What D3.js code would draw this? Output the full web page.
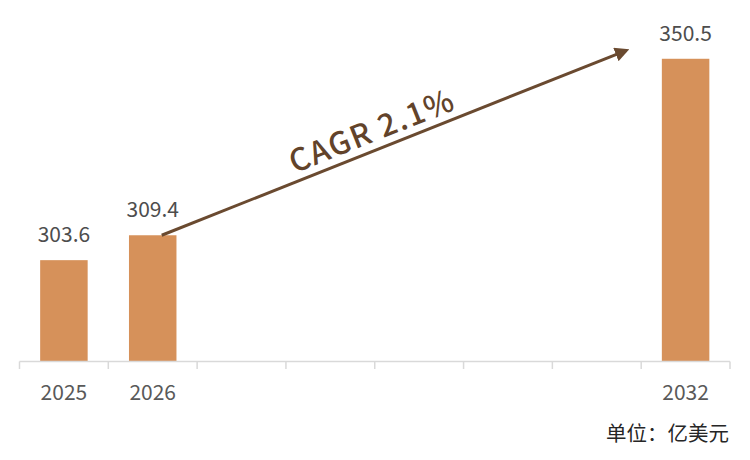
<!DOCTYPE html>
<html>
<head>
<meta charset="utf-8">
<script src="https://cdn.jsdelivr.net/npm/d3@7"></script>
<style>
  body { margin: 0; background: #fff; }
  svg text { font-family: "Noto Sans CJK SC", "Noto Sans", sans-serif; }
</style>
</head>
<body>
<div class="chart"></div>
<script>
var years = ["2025", "2026", "2027", "2028", "2029", "2030", "2031", "2032"];
var values = [303.6, 309.4, null, null, null, null, null, 350.5];
var labeledYears = ["2025", "2026", "2032"];
var cagrText = "CAGR 2.1%";
var unitText = "单位：亿美元";

var width = 750, height = 460;
var baseY = 361.5;

var svg = d3.select(".chart").append("svg")
  .attr("width", width)
  .attr("height", height);

var x = d3.scaleBand().domain(years).range([19.5, 730]).paddingInner(0).paddingOuter(0);
var y = d3.scaleLinear().domain([280, 360]).range([baseY, baseY - 80 * 4.294]);

var barW = 47.5;
var data = years.map(function(d, i) { return { year: d, value: values[i] }; })
  .filter(function(d) { return d.value != null; });

// bars
svg.selectAll("rect.bar").data(data).enter().append("rect")
  .attr("class", "bar")
  .attr("x", function(d) { return x(d.year) + x.bandwidth() / 2 - barW / 2; })
  .attr("width", barW)
  .attr("y", function(d) { return y(d.value); })
  .attr("height", function(d) { return baseY - y(d.value); })
  .attr("fill", "#d6915a");

// value labels
svg.selectAll("text.val").data(data).enter().append("text")
  .attr("class", "val")
  .attr("x", function(d) { return x(d.year) + x.bandwidth() / 2; })
  .attr("y", function(d) { return y(d.value) - 18; })
  .attr("text-anchor", "middle")
  .attr("font-size", 21)
  .attr("fill", "#4d4d4d")
  .text(function(d) { return d.value.toFixed(1); });

// x axis: line plus ticks at band edges
var axis = svg.append("g");
axis.append("line")
  .attr("x1", x.range()[0]).attr("x2", x.range()[1])
  .attr("y1", baseY).attr("y2", baseY)
  .attr("stroke", "#d9d9d9").attr("stroke-width", 1.5);
var edges = years.map(function(d) { return x(d); }).concat([x.range()[1]]);
axis.selectAll("line.tick").data(edges).enter().append("line")
  .attr("class", "tick")
  .attr("x1", function(d) { return d; }).attr("x2", function(d) { return d; })
  .attr("y1", baseY).attr("y2", baseY + 7.5)
  .attr("stroke", "#d9d9d9").attr("stroke-width", 1.5);
axis.selectAll("text").data(labeledYears).enter().append("text")
  .attr("x", function(d) { return x(d) + x.bandwidth() / 2; })
  .attr("y", 400)
  .attr("text-anchor", "middle")
  .attr("font-size", 21)
  .attr("fill", "#595959")
  .text(function(d) { return d; });

// CAGR arrow
var defs = svg.append("defs");
defs.append("marker")
  .attr("id", "arrowhead")
  .attr("viewBox", "0 0 10 10")
  .attr("refX", 8).attr("refY", 5)
  .attr("markerWidth", 4.8).attr("markerHeight", 4.8)
  .attr("orient", "auto")
  .append("path")
  .attr("d", "M0,0 L10,5 L0,10 Z")
  .attr("fill", "#6a4a30");

var x0 = x("2026") + x.bandwidth() / 2 + 9, y0 = y(309.4);
var x1 = x("2032") + x.bandwidth() / 2 - 59, y1 = y(350.5) - 8.5;
svg.append("line")
  .attr("x1", x0).attr("y1", y0)
  .attr("x2", x1).attr("y2", y1)
  .attr("stroke", "#6a4a30").attr("stroke-width", 3)
  .attr("marker-end", "url(#arrowhead)");

var angle = Math.atan2(y1 - y0, x1 - x0) * 180 / Math.PI;
var tx = 376, ty = y0 + (y1 - y0) * (tx - x0) / (x1 - x0) - 9;
svg.append("text")
  .attr("transform", "translate(" + tx + "," + ty + ") rotate(" + angle + ")")
  .attr("text-anchor", "middle")
  .attr("font-size", 31)
  .attr("font-weight", 500)
  .attr("letter-spacing", 1.5)
  .attr("fill", "#62432a")
  .text(cagrText);

// unit note
svg.append("text")
  .attr("x", 729).attr("y", 441)
  .attr("text-anchor", "end")
  .attr("font-size", 20.5)
  .attr("fill", "#262626")
  .text(unitText);
</script>
</body>
</html>
